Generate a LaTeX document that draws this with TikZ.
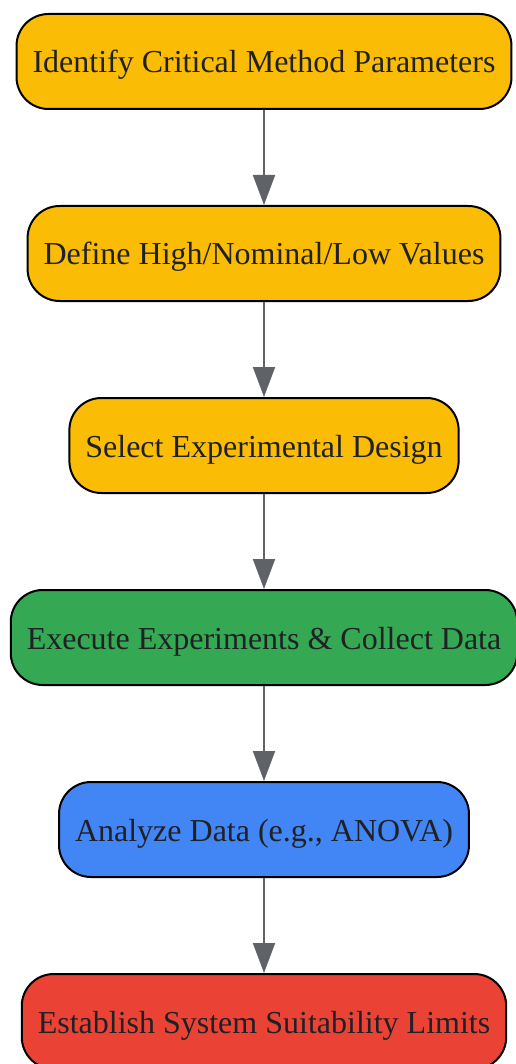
\documentclass[tikz,border=0pt]{standalone}
\usepackage{fontspec}
\setmainfont{Liberation Serif}
\usepackage{xcolor}
\usetikzlibrary{arrows.meta, positioning}

\definecolor{stepyellow}{HTML}{FBBC05}
\definecolor{stepgreen}{HTML}{34A853}
\definecolor{stepblue}{HTML}{4285F4}
\definecolor{stepred}{HTML}{EA4335}
\definecolor{flowgray}{HTML}{5F6368}
\definecolor{inkdark}{HTML}{202124}

\begin{document}
\begin{tikzpicture}[
                x=1pt, y=1pt,
                box/.style={draw=black, line width=2pt, rounded corners=32pt, minimum height=95pt,
                    inner xsep=16pt, text height=26pt, text depth=3pt, align=center, text=inkdark,
                    font=\fontsize{32}{38}\selectfont},
                flow/.style={draw=flowgray, line width=2pt, -{Triangle[length=30pt, width=22pt]}},
            ]

                \useasboundingbox (0,0) rectangle (515,-1064);

                % Steps
                \node[box, fill=stepyellow] (ident) at (264,-61.5) {Identify Critical Method Parameters};
                \node[box, fill=stepyellow, below=95pt of ident] (define) {Define High/Nominal/Low Values};
                \node[box, fill=stepyellow, below=95pt of define] (select) {Select Experimental Design};
                \node[box, fill=stepgreen, below=95pt of select] (execute) {Execute Experiments \& Collect Data};
                \node[box, fill=stepblue, below=95pt of execute] (analyze) {Analyze Data (e.g., ANOVA)};
                \node[box, fill=stepred, below=95pt of analyze] (limits) {Establish System Suitability Limits};

                % Flow
                \draw[flow] (ident) -- (define);
                \draw[flow] (define) -- (select);
                \draw[flow] (select) -- (execute);
                \draw[flow] (execute) -- (analyze);
                \draw[flow] (analyze) -- (limits);
            \end{tikzpicture}
\end{document}
